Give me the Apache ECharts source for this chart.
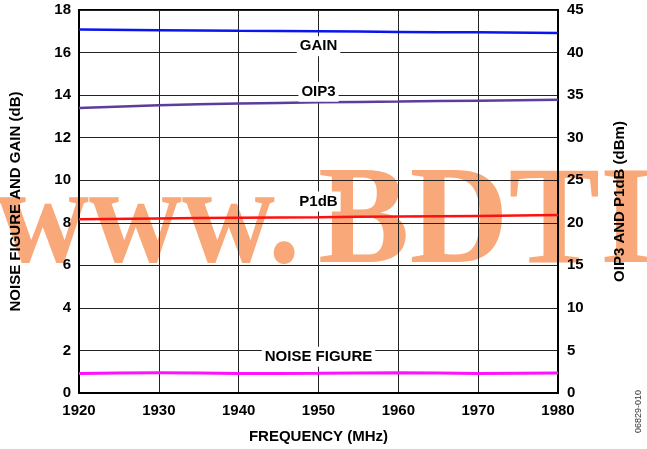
<!DOCTYPE html>
<html>
<head>
  <meta charset="utf-8">
</head>
<body style="margin: 0">
  <div id="container" style="width: 647px; height: 449px"></div>

  <script type="text/javascript" src="https://fastly.jsdelivr.net/npm/echarts@6/dist/echarts.min.js"></script>

  <script type="text/javascript">
    var freq = [1920, 1930, 1940, 1950, 1960, 1970, 1980];
    var gain = [17.08, 17.05, 17.02, 17.0, 16.97, 16.95, 16.92];
    var oip3 = [33.5, 33.8, 34.0, 34.15, 34.25, 34.35, 34.45];
    var p1db = [20.4, 20.5, 20.6, 20.65, 20.75, 20.8, 20.9];
    var noiseFigure = [0.92, 0.95, 0.92, 0.93, 0.95, 0.92, 0.94];
    // where the curve names sit (x, value on that series' axis)
    var labelPos = { gain: [1950, 16.3], oip3: [1950, 35.4], p1db: [1950, 22.5], nf: [1950, 1.7] };

    var dom = document.getElementById('container');
    var myChart = echarts.init(dom, null, { renderer: 'canvas' });
    var font = 'Liberation Sans, Arial, sans-serif';
    var wmFont = 'bold 140px "Liberation Serif", "Times New Roman", serif';

    function pairs(ys) {
      return freq.map(function (f, i) { return [f, ys[i]]; });
    }
    function nameMark(text, pos) {
      return {
        symbol: 'circle',
        symbolSize: 1,
        silent: true,
        itemStyle: { color: 'rgba(0,0,0,0)' },
        data: [{
          coord: pos,
          label: {
            show: true,
            position: 'inside',
            formatter: text,
            color: '#000',
            fontFamily: font,
            fontWeight: 'bold',
            fontSize: 15,
            backgroundColor: '#fff',
            padding: [3, 3, 2, 3]
          }
        }]
      };
    }

    var axisLabel = { color: '#000', fontFamily: font, fontWeight: 'bold', fontSize: 15 };
    var axisName = { color: '#000', fontFamily: font, fontWeight: 'bold', fontSize: 15 };

    var option = {
      animation: false,
      backgroundColor: '#fff',
      grid: { left: 78, right: 89, top: 10, bottom: 56, show: true, borderColor: '#000', borderWidth: 2 },
      graphic: [
        {
          type: 'text',
          left: -4,
          top: 156,
          z: -10,
          silent: true,
          scaleX: 0.92,
          style: { text: 'www.', fill: '#F9A87A', font: wmFont }
        },
        {
          type: 'text',
          left: 318,
          top: 156,
          z: -10,
          silent: true,
          scaleX: 0.98,
          style: { text: 'BDTI', fill: '#F9A87A', font: wmFont }
        },
        {
          type: 'text',
          left: 634,
          top: 390,
          rotation: Math.PI / 2,
          style: {
            text: '06829-010',
            fill: '#333',
            font: '9px ' + font
          }
        }
      ],
      xAxis: {
        type: 'value',
        min: 1920,
        max: 1980,
        interval: 10,
        name: 'FREQUENCY (MHz)',
        nameLocation: 'middle',
        nameGap: 36,
        nameTextStyle: axisName,
        axisLine: { lineStyle: { color: '#000', width: 2 } },
        axisTick: { show: false },
        axisLabel: Object.assign({ margin: 10, formatter: function (v) { return String(v); } }, axisLabel),
        splitLine: { show: true, lineStyle: { color: '#222', width: 1 } }
      },
      yAxis: [
        {
          type: 'value',
          min: 0,
          max: 18,
          interval: 2,
          name: 'NOISE FIGURE AND GAIN (dB)',
          nameLocation: 'middle',
          nameGap: 56,
          nameTextStyle: axisName,
          axisLine: { show: true, lineStyle: { color: '#000', width: 2 } },
          axisTick: { show: false },
          axisLabel: Object.assign({ margin: 8 }, axisLabel),
          splitLine: { show: true, lineStyle: { color: '#222', width: 1 } }
        },
        {
          type: 'value',
          min: 0,
          max: 45,
          interval: 5,
          position: 'right',
          name: 'OIP3 AND P1dB (dBm)',
          nameLocation: 'middle',
          nameGap: 54,
          nameRotate: 90,
          nameTextStyle: axisName,
          axisLine: { show: true, lineStyle: { color: '#000', width: 2 } },
          axisTick: { show: false },
          axisLabel: Object.assign({ margin: 9 }, axisLabel),
          splitLine: { show: false }
        }
      ],
      series: [
        {
          name: 'GAIN',
          type: 'line',
          data: pairs(gain),
          smooth: true,
          showSymbol: false,
          lineStyle: { color: '#0a14f0', width: 2.5 },
          markPoint: nameMark('GAIN', labelPos.gain)
        },
        {
          name: 'OIP3',
          type: 'line',
          yAxisIndex: 1,
          data: pairs(oip3),
          smooth: true,
          showSymbol: false,
          lineStyle: { color: '#5c3c9c', width: 2.5 },
          markPoint: nameMark('OIP3', labelPos.oip3)
        },
        {
          name: 'P1dB',
          type: 'line',
          yAxisIndex: 1,
          data: pairs(p1db),
          smooth: true,
          showSymbol: false,
          lineStyle: { color: '#ff1010', width: 2.5 },
          markPoint: nameMark('P1dB', labelPos.p1db)
        },
        {
          name: 'NOISE FIGURE',
          type: 'line',
          data: pairs(noiseFigure),
          smooth: true,
          showSymbol: false,
          lineStyle: { color: '#ff10ff', width: 3 },
          markPoint: nameMark('NOISE FIGURE', labelPos.nf)
        }
      ]
    };

    myChart.setOption(option);
    window.addEventListener('resize', myChart.resize);
  </script>
</body>
</html>
